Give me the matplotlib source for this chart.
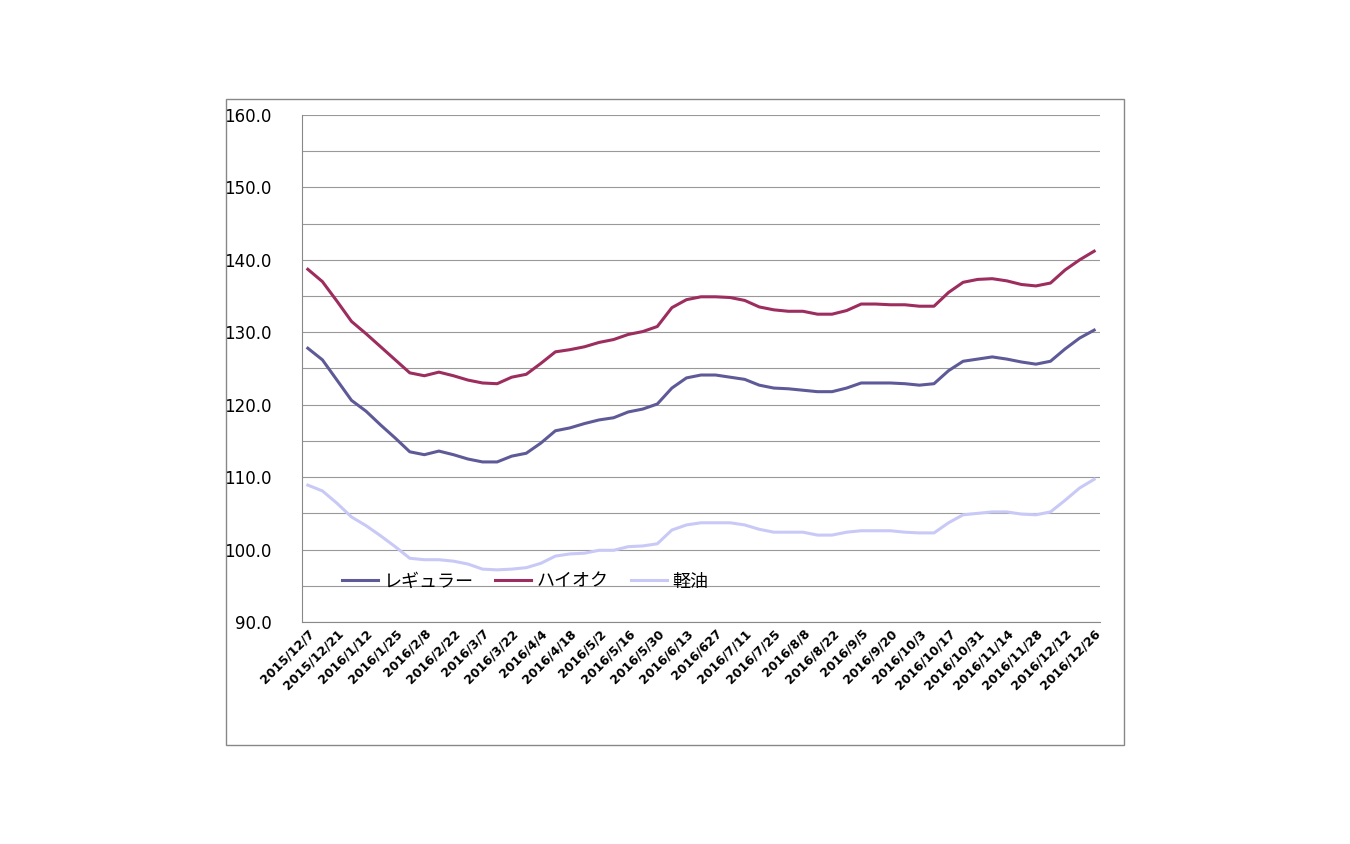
import matplotlib
matplotlib.use("Agg")
import matplotlib.pyplot as plt
from matplotlib.patches import Rectangle

plt.rcParams["font.family"] = ["Noto Sans CJK JP", "DejaVu Sans"]

tick_labels = ["2015/12/7","2015/12/21","2016/1/12","2016/1/25","2016/2/8","2016/2/22","2016/3/7",
               "2016/3/22","2016/4/4","2016/4/18","2016/5/2","2016/5/16","2016/5/30","2016/6/13",
               "2016/627","2016/7/11","2016/7/25","2016/8/8","2016/8/22","2016/9/5","2016/9/20",
               "2016/10/3","2016/10/17","2016/10/31","2016/11/14","2016/11/28","2016/12/12","2016/12/26"]
series_names = ["レギュラー", "ハイオク", "軽油"]
regular = [127.8,126.2,123.4,120.6,119.1,117.2,115.4,113.5,113.1,113.6,113.1,112.5,112.1,112.1,112.9,
           113.3,114.7,116.4,116.8,117.4,117.9,118.2,119.0,119.4,120.1,122.3,123.7,124.1,124.1,123.8,
           123.5,122.7,122.3,122.2,122.0,121.8,121.8,122.3,123.0,123.0,123.0,122.9,122.7,122.9,124.7,
           126.0,126.3,126.6,126.3,125.9,125.6,126.0,127.7,129.2,130.3]
high = [138.7,137.0,134.3,131.5,129.8,128.0,126.2,124.4,124.0,124.5,124.0,123.4,123.0,122.9,123.8,
        124.2,125.7,127.3,127.6,128.0,128.6,129.0,129.7,130.1,130.8,133.4,134.5,134.9,134.9,134.8,
        134.4,133.5,133.1,132.9,132.9,132.5,132.5,133.0,133.9,133.9,133.8,133.8,133.6,133.6,135.5,
        136.9,137.3,137.4,137.1,136.6,136.4,136.8,138.6,140.0,141.2]
diesel = [108.9,108.1,106.4,104.5,103.3,101.9,100.4,98.8,98.6,98.6,98.4,98.0,97.3,97.2,97.3,
          97.5,98.1,99.1,99.4,99.5,99.9,99.9,100.4,100.5,100.8,102.7,103.4,103.7,103.7,103.7,
          103.4,102.8,102.4,102.4,102.4,102.0,102.0,102.4,102.6,102.6,102.6,102.4,102.3,102.3,103.7,
          104.8,105.0,105.2,105.2,104.9,104.8,105.2,106.8,108.5,109.7]
colors = ["#5e5a98", "#9c2d5e", "#c9c9f7"]

fig = plt.figure(figsize=(13.5, 8.44), dpi=100)
fig.patches.append(Rectangle((226/1350, 1-745/844), (1124-226)/1350, (745-99)/844,
                             transform=fig.transFigure, fill=False, edgecolor="#888888", lw=1))
ax = fig.add_axes([302/1350, 1-622/844, (1100-302)/1350, (622-115)/844])
x = list(range(len(regular)))
for vals, name, c in zip([regular, high, diesel], series_names, colors):
    ax.plot(x, vals, color=c, lw=2.2, label=name)
ax.set_ylim(90, 160)
ax.set_xlim(-0.4, len(regular) - 0.6)
ax.set_yticks(range(90, 161, 10))
ax.set_yticklabels([f"{v:.1f}" for v in range(90, 161, 10)], fontsize=12, fontfamily="DejaVu Sans")
ax.set_yticks(range(95, 160, 10), minor=True)
ax.grid(True, which="both", axis="y", color="#999999", lw=0.8)
ax.set_axisbelow(True)
ax.set_xticks(x[::2])
ax.set_xticklabels(tick_labels, rotation=45, ha="right", rotation_mode="anchor", fontsize=9,
                   fontweight="bold", fontfamily="DejaVu Sans")
ax.tick_params(axis="both", which="both", length=0)
ax.tick_params(axis="y", pad=22)
for s in ["top", "right"]:
    ax.spines[s].set_visible(False)
ax.spines["left"].set_color("#888888")
ax.spines["bottom"].set_color("#888888")
ax.legend(loc="lower left", bbox_to_anchor=(0.03, 0.03), ncol=3, frameon=False, fontsize=13,
          handlelength=2.0, handletextpad=0.3, columnspacing=1.2)
fig.savefig("out.png", dpi=100)
